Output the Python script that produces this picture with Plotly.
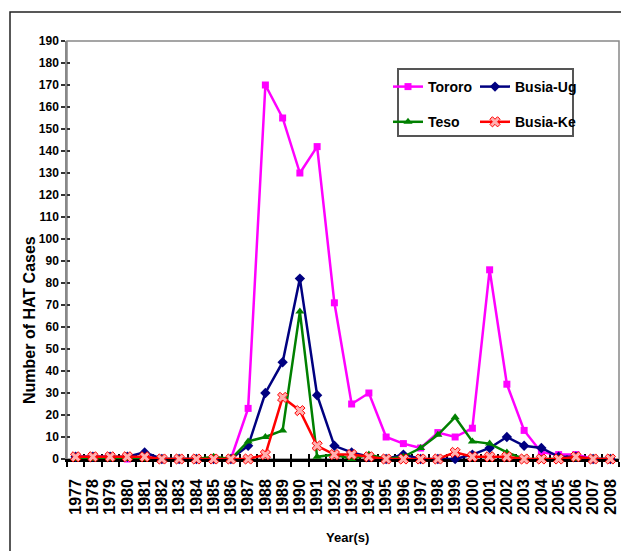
import plotly.graph_objects as go

years = [str(y) for y in range(1977, 2009)]

tororo = [1, 1, 1, 0, 1, 0, 0, 0, 0, 0, 23, 170, 155, 130, 142, 71, 25, 30, 10, 7, 5, 12, 10, 14, 86, 34, 13, 3, 2, 2, 0, 0]
busia_ug = [1, 1, 1, 1, 3, 0, 0, 0, 0, 0, 6, 30, 44, 82, 29, 6, 3, 1, 0, 2, 0, 0, 0, 2, 5, 10, 6, 5, 1, 1, 0, 0]
teso = [0, 0, 0, 0, 0, 0, 0, 0, 1, 0, 8, 10, 13, 67, 1, 2, 0, 2, 0, 1, 5, 11, 19, 8, 7, 3, 0, 0, 0, 0, 0, 0]
busia_ke = [1, 1, 1, 1, 1, 0, 0, 0, 0, 0, 0, 2, 28, 22, 6, 2, 2, 1, 0, 0, 0, 0, 3, 1, 1, 1, 0, 0, 0, 1, 0, 0]

y_ticks = list(range(0, 200, 10))

W, H = 621, 551
L, R, T, B = 67, 2, 41, 92
PW = W - L - R
PH = H - T - B


def px(x):
    return (x - L) / PW


def py(y):
    return (H - B - y) / PH


FONT = "Liberation Sans, Arial, sans-serif"

fig = go.Figure()

fig.add_trace(go.Scatter(
    x=years, y=tororo, name="Tororo", mode="lines+markers",
    line=dict(color="#FF00FF", width=2.5),
    marker=dict(symbol="square", size=7, color="#FF00FF"),
    cliponaxis=False, legend="legend", legendgroup="a"))
fig.add_trace(go.Scatter(
    x=years, y=busia_ug, name="Busia-Ug", mode="lines+markers",
    line=dict(color="#000080", width=2.5),
    marker=dict(symbol="diamond", size=8, color="#000080"),
    cliponaxis=False, legend="legend2", legendgroup="b"))
fig.add_trace(go.Scatter(
    x=years, y=teso, name="Teso", mode="lines+markers",
    line=dict(color="#008000", width=2.5),
    marker=dict(symbol="triangle-up", size=8, color="#008000"),
    cliponaxis=False, legend="legend", legendgroup="c"))
fig.add_trace(go.Scatter(
    x=years, y=busia_ke, name="Busia-Ke", mode="lines+markers",
    line=dict(color="#FF0000", width=2.5),
    marker=dict(symbol="x", size=9, color="#FFB0B0", line=dict(color="#FF0000", width=1)),
    cliponaxis=False, legend="legend2", legendgroup="d"))

# dummy trace to register the overlay axes (cross ticks)
fig.add_trace(go.Scatter(x=years, y=[None] * len(years), xaxis="x2", yaxis="y2",
                         showlegend=False, hoverinfo="skip"))

tickfont = dict(family=FONT, size=12, color="black", weight="bold")

fig.update_layout(
    width=W, height=H,
    margin=dict(l=L, r=R, t=T, b=B, autoexpand=False),
    paper_bgcolor="white", plot_bgcolor="white",
    showlegend=True,
    xaxis=dict(type="category", categoryorder="array", categoryarray=years,
               range=[-0.5, len(years) - 0.5], tickson="boundaries", dtick=1,
               ticks="outside", ticklen=5, tickwidth=1.5, tickcolor="black",
               ticklabelstandoff=11,
               showline=True, linecolor="black", linewidth=2.5,
               showgrid=False, zeroline=False, tickangle=-90,
               tickfont=dict(family=FONT, size=16, color="black", weight="bold"),
               layer="below traces", automargin=False),
    yaxis=dict(range=[0, 190], tickmode="array", tickvals=y_ticks,
               ticksuffix="\u00a0\u00a0",
               ticks="outside", ticklen=4, tickwidth=1.5, tickcolor="#333",
               showline=True, linecolor="#888", linewidth=1.5,
               showgrid=False, zeroline=False, tickfont=tickfont,
               layer="below traces", automargin=False),
    xaxis2=dict(type="category", categoryorder="array", categoryarray=years,
                range=[-0.5, len(years) - 0.5], tickson="boundaries", dtick=1,
                overlaying="x", anchor="y2", ticks="inside", ticklen=5,
                tickwidth=1.5, tickcolor="black", showticklabels=False,
                showline=False, showgrid=False, zeroline=False, layer="below traces"),
    yaxis2=dict(range=[0, 190], tickmode="array", tickvals=y_ticks,
                overlaying="y", anchor="x2", side="left", ticks="inside", ticklen=3,
                tickwidth=1.5, tickcolor="#333", showticklabels=False,
                showline=False, showgrid=False, zeroline=False, layer="below traces"),
    legend=dict(x=px(388), y=py(71), xanchor="left", yanchor="top",
                bgcolor="rgba(0,0,0,0)", borderwidth=0, tracegroupgap=14,
                font=dict(family=FONT, size=14, color="black", weight="bold")),
    legend2=dict(x=px(475), y=py(71), xanchor="left", yanchor="top",
                 bgcolor="rgba(0,0,0,0)", borderwidth=0, tracegroupgap=14,
                 font=dict(family=FONT, size=14, color="black", weight="bold")),
    shapes=[
        dict(type="rect", xref="paper", yref="paper", x0=0, x1=1, y0=0, y1=1,
             line=dict(color="#888", width=1.5), layer="below"),
        dict(type="rect", xref="paper", yref="paper", x0=px(10), x1=px(650),
             y0=py(600), y1=py(12), line=dict(color="#222", width=1.5), layer="below"),
        dict(type="rect", xref="paper", yref="paper", x0=px(398), x1=px(573),
             y0=py(136), y1=py(69), line=dict(color="#555", width=2),
             fillcolor="white", layer="below"),
    ],
    annotations=[
        dict(text="Number of HAT Cases", xref="paper", yref="paper",
             x=px(29), y=py(320), xanchor="center", yanchor="middle",
             textangle=-90, showarrow=False,
             font=dict(family=FONT, size=16, color="black", weight="bold")),
        dict(text="Year(s)", xref="paper", yref="paper",
             x=px(347), y=py(537), xanchor="center", yanchor="middle",
             showarrow=False,
             font=dict(family=FONT, size=13, color="black", weight="bold")),
    ],
)

fig.write_html("out.html", config={"displayModeBar": False},
               post_script="document.body.style.margin='0';document.body.style.overflow='hidden';")
